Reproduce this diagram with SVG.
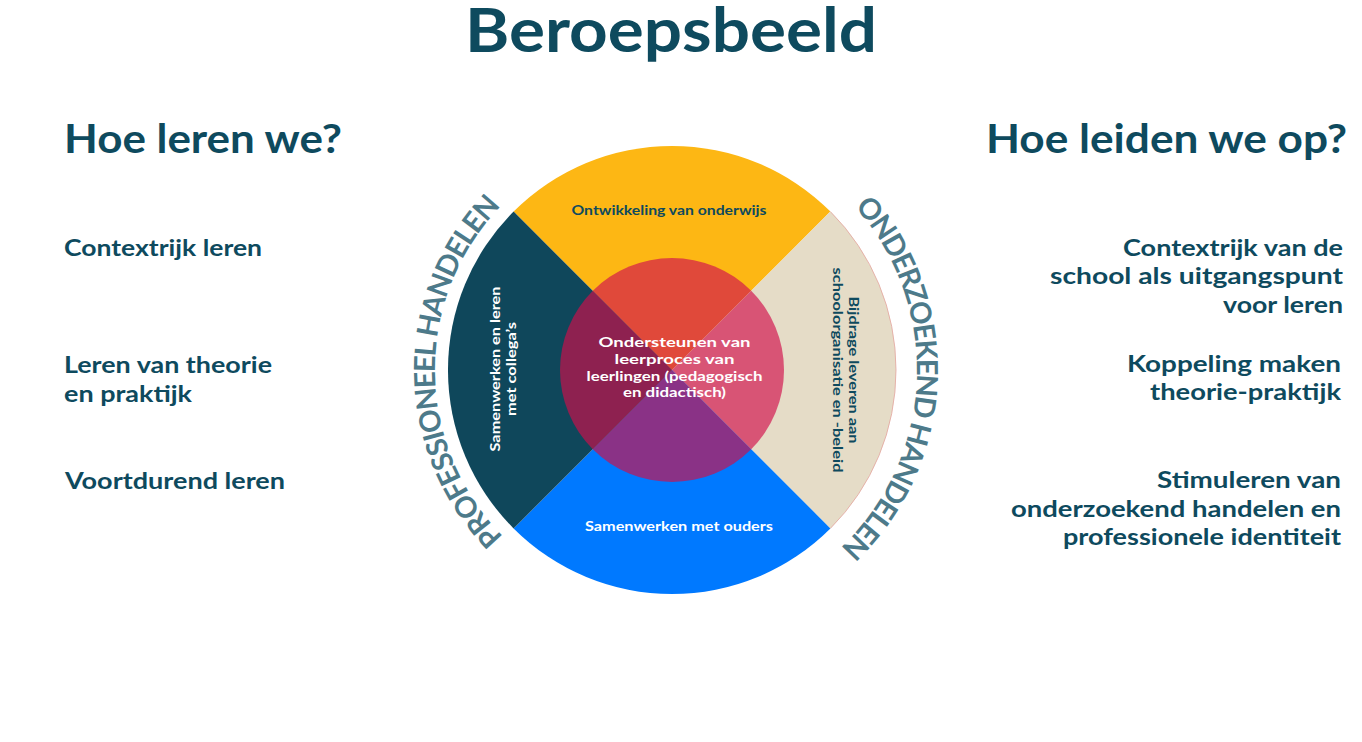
<svg xmlns="http://www.w3.org/2000/svg" width="1362" height="742" viewBox="0 0 1362 742">
<defs>
<style>
.t{font-family:Lato,"Open Sans","Liberation Sans",sans-serif;font-weight:700;fill:#0E4A5E}
.h1{font-size:62px}
.h2{font-size:41px}
.it{font-size:23.5px}
.q{font-family:Lato,"Open Sans","Liberation Sans",sans-serif;font-weight:700;font-size:13px}
.c{font-family:Lato,"Open Sans","Liberation Sans",sans-serif;font-weight:700;font-size:14px;fill:#ffffff}
.ring{font-family:Lato,"Open Sans","Liberation Sans",sans-serif;font-weight:700;font-size:29px;fill:#4D7A8A}
</style>
<path id="arcL" d="M632.5,603.7 A237,237 0 0 1 629.2,136.9"/>
<path id="arcR" d="M724.6,130.7 A245,245 0 0 1 704.4,612.8"/>
</defs>
<rect width="1362" height="742" fill="#ffffff"/>

<g id="title">
<text class="t h1" x="671" y="52" text-anchor="middle" textLength="412" lengthAdjust="spacingAndGlyphs">Beroepsbeeld</text>
</g>

<g id="left-column">
<text class="t h2" x="64" y="153" textLength="278" lengthAdjust="spacingAndGlyphs">Hoe leren we?</text>
<text class="t it" x="64" y="255.5" textLength="198" lengthAdjust="spacingAndGlyphs">Contextrijk leren</text>
<text class="t it" x="64" y="373" textLength="208" lengthAdjust="spacingAndGlyphs">Leren van theorie</text>
<text class="t it" x="64" y="401.5" textLength="128" lengthAdjust="spacingAndGlyphs">en praktijk</text>
<text class="t it" x="65" y="489" textLength="220" lengthAdjust="spacingAndGlyphs">Voortdurend leren</text>
</g>

<g id="right-column">
<text class="t h2" x="1347" y="152.5" text-anchor="end" textLength="361" lengthAdjust="spacingAndGlyphs">Hoe leiden we op?</text>
<text class="t it" x="1343" y="255.5" text-anchor="end" textLength="220" lengthAdjust="spacingAndGlyphs">Contextrijk van de</text>
<text class="t it" x="1343" y="284" text-anchor="end" textLength="293" lengthAdjust="spacingAndGlyphs">school als uitgangspunt</text>
<text class="t it" x="1343" y="312.5" text-anchor="end" textLength="120" lengthAdjust="spacingAndGlyphs">voor leren</text>
<text class="t it" x="1341" y="371.5" text-anchor="end" textLength="214" lengthAdjust="spacingAndGlyphs">Koppeling maken</text>
<text class="t it" x="1341" y="400" text-anchor="end" textLength="191" lengthAdjust="spacingAndGlyphs">theorie-praktijk</text>
<text class="t it" x="1341" y="488" text-anchor="end" textLength="184" lengthAdjust="spacingAndGlyphs">Stimuleren van</text>
<text class="t it" x="1341" y="516.5" text-anchor="end" textLength="330" lengthAdjust="spacingAndGlyphs">onderzoekend handelen en</text>
<text class="t it" x="1341" y="544.5" text-anchor="end" textLength="278" lengthAdjust="spacingAndGlyphs">professionele identiteit</text>
</g>

<g id="q-top">
<path d="M672,370 L513.6,211.6 A224,224 0 0 1 830.4,211.6 Z" fill="#FDB714"/>
<text class="q" x="669" y="215" text-anchor="middle" fill="#0E4A5E" textLength="195" lengthAdjust="spacingAndGlyphs">Ontwikkeling van onderwijs</text>
</g>
<g id="q-right">
<path d="M672,370 L830.4,211.6 A224,224 0 0 1 830.4,528.4 Z" fill="#E5DCC7"/>
<path d="M830.4,211.6 A224,224 0 0 1 830.4,528.4" fill="none" stroke="#E3A49E" stroke-width="0.8"/>
<g transform="translate(849,370) rotate(90)">
<text class="q" x="0" y="0" text-anchor="middle" fill="#0E4A5E" textLength="147" lengthAdjust="spacingAndGlyphs">Bijdrage leveren aan</text>
<text class="q" x="0" y="16.5" text-anchor="middle" fill="#0E4A5E" textLength="205" lengthAdjust="spacingAndGlyphs">schoolorganisatie en -beleid</text>
</g>
</g>
<g id="q-bottom">
<path d="M672,370 L830.4,528.4 A224,224 0 0 1 513.6,528.4 Z" fill="#0079FF"/>
<text class="q" x="679" y="531" text-anchor="middle" fill="#ffffff" textLength="188" lengthAdjust="spacingAndGlyphs">Samenwerken met ouders</text>
</g>
<g id="q-left">
<path d="M672,370 L513.6,528.4 A224,224 0 0 1 513.6,211.6 Z" fill="#0F475B"/>
<g transform="translate(500,369) rotate(-90)">
<text class="q" x="0" y="0" text-anchor="middle" fill="#ffffff" textLength="165" lengthAdjust="spacingAndGlyphs">Samenwerken en leren</text>
<text class="q" x="0" y="15.5" text-anchor="middle" fill="#ffffff" textLength="94" lengthAdjust="spacingAndGlyphs">met collega’s</text>
</g>
</g>

<g id="center">
<path d="M672,370 L592.8,290.8 A112,112 0 0 1 751.2,290.8 Z" fill="#E0493A"/>
<path d="M672,370 L751.2,290.8 A112,112 0 0 1 751.2,449.2 Z" fill="#D85475"/>
<path d="M672,370 L751.2,449.2 A112,112 0 0 1 592.8,449.2 Z" fill="#8A3286"/>
<path d="M672,370 L592.8,449.2 A112,112 0 0 1 592.8,290.8 Z" fill="#8E2150"/>
<text class="c" x="674.5" y="347.3" text-anchor="middle" textLength="152" lengthAdjust="spacingAndGlyphs">Ondersteunen van</text>
<text class="c" x="674.5" y="364" text-anchor="middle" textLength="120" lengthAdjust="spacingAndGlyphs">leerproces van</text>
<text class="c" x="674.5" y="380.7" text-anchor="middle" textLength="176" lengthAdjust="spacingAndGlyphs">leerlingen (pedagogisch</text>
<text class="c" x="674.5" y="397.3" text-anchor="middle" textLength="103" lengthAdjust="spacingAndGlyphs">en didactisch)</text>
</g>

<g id="ring-left">
<text class="ring"><textPath href="#arcL" startOffset="50%" text-anchor="middle" textLength="366" lengthAdjust="spacing">PROFESSIONEEL HANDELEN</textPath></text>
</g>
<g id="ring-right">
<text class="ring"><textPath href="#arcR" startOffset="50%" text-anchor="middle" textLength="378" lengthAdjust="spacing">ONDERZOEKEND HANDELEN</textPath></text>
</g>
</svg>
